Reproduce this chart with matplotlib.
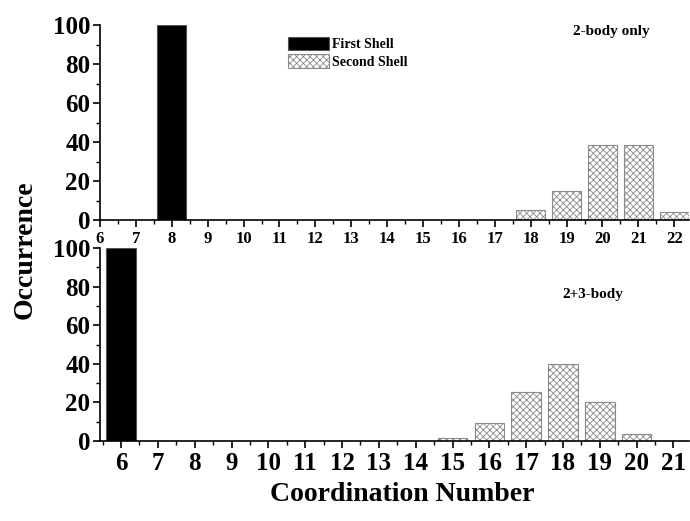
import matplotlib
matplotlib.use('Agg')
import matplotlib.pyplot as plt
from matplotlib.ticker import MultipleLocator

plt.rcParams['font.family'] = ['Liberation Serif', 'DejaVu Serif']
plt.rcParams['font.weight'] = 'bold'
plt.rcParams['hatch.color'] = '#8a8a8a'
plt.rcParams['hatch.linewidth'] = 0.6

# 2-body only
top_first_x = [8]
top_first_y = [100]
top_second_x = [18, 19, 20, 21, 22]
top_second_y = [5.1, 14.9, 38.3, 38.3, 4.3]

# 2+3-body
bot_first_x = [6]
bot_first_y = [100]
bot_second_x = [15, 16, 17, 18, 19, 20]
bot_second_y = [1.6, 9.4, 25.3, 39.9, 20.4, 3.8]

top_ticks = list(range(6, 23))
bot_ticks = list(range(6, 22))
y_ticks = [0, 20, 40, 60, 80, 100]

fig = plt.figure(figsize=(6.9, 5.21), dpi=100)
ax1 = fig.add_axes([0.145, 0.5777, 0.854, 0.374])
ax2 = fig.add_axes([0.145, 0.1536, 0.854, 0.370])

def style(ax, ticks, xfs):
    for s in ['top', 'right']:
        ax.spines[s].set_visible(False)
    for s in ['left', 'bottom']:
        ax.spines[s].set_linewidth(1.2)
    ax.set_ylim(0, 100)
    ax.set_yticks(y_ticks)
    ax.yaxis.set_minor_locator(MultipleLocator(10))
    ax.set_xticks(ticks)
    ax.xaxis.set_minor_locator(MultipleLocator(0.5))
    ax.tick_params(which='major', direction='out', length=5, width=1.2)
    ax.tick_params(which='minor', direction='out', length=3, width=1.0)
    ax.tick_params(axis='y', labelsize=18, pad=2)
    ax.tick_params(axis='x', labelsize=xfs, pad=3)
    for lab in ax.get_xticklabels() + ax.get_yticklabels():
        lab.set_fontweight('bold')

ax1.bar(top_first_x, top_first_y, width=0.8, color='black', edgecolor='#555555',
        linewidth=0.8, label='First Shell')
ax1.bar(top_second_x, top_second_y, width=0.8, color='white', edgecolor='#8a8a8a',
        linewidth=0.8, hatch='xxxxx', label='Second Shell')
ax1.set_xlim(6, 22.42)
style(ax1, top_ticks, 12)
ax1.text(0.868, 0.965, '2-body only', transform=ax1.transAxes, fontsize=11,
         fontweight='bold', ha='center', va='center')
ax1.legend(loc='upper left', bbox_to_anchor=(0.31, 0.97), frameon=False,
           prop={'weight': 'bold', 'size': 10}, handlelength=2.9,
           handleheight=1.1, handletextpad=0.25, labelspacing=0.25,
           borderaxespad=0)

ax2.bar(bot_first_x, bot_first_y, width=0.8, color='black', edgecolor='#555555',
        linewidth=0.8)
ax2.bar(bot_second_x, bot_second_y, width=0.8, color='white', edgecolor='#8a8a8a',
        linewidth=0.8, hatch='xxxxx')
ax2.set_xlim(5.43, 21.43)
style(ax2, bot_ticks, 18)
ax2.text(0.837, 0.76, '2+3-body', transform=ax2.transAxes, fontsize=11,
         fontweight='bold', ha='center', va='center')

fig.text(0.036, 0.52, 'Occurrence', rotation=90, fontsize=20, fontweight='bold',
         ha='center', va='center')
fig.text(0.583, 0.05, 'Coordination Number', fontsize=20, fontweight='bold',
         ha='center', va='center')

fig.savefig('out.png', dpi=100)
